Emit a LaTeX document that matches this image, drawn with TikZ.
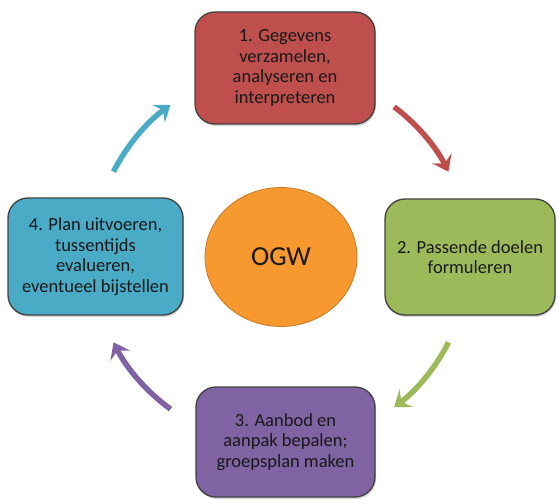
\documentclass[tikz,border=0pt]{standalone}
\usepackage{fontspec}
\setmainfont{Carlito}
\usetikzlibrary{arrows.meta,shapes.geometric,shadows}
\definecolor{DataClr}{rgb}{0.75,0.31,0.30}
\definecolor{GoalClr}{rgb}{0.61,0.73,0.35}
\definecolor{PlanClr}{rgb}{0.50,0.39,0.64}
\definecolor{DoClr}{rgb}{0.29,0.67,0.78}
\definecolor{CoreClr}{rgb}{0.97,0.60,0.18}

\begin{document}
\begin{tikzpicture}[x=1pt,y=1pt,
  stepbox/.style={draw=black!75,line width=1.3pt,rounded corners=20pt,align=center,inner sep=0pt,
    font=\fontsize{18.5}{20.5}\selectfont,text=black!90,
    drop shadow={opacity=.3,shadow xshift=1pt,shadow yshift=-2pt}},
  cyclearrow/.style={line width=5.5pt,-{Stealth[length=15pt,width=22pt,inset=6pt]}}]

\useasboundingbox (0,0) rectangle (557,499);

\node[stepbox,fill=DataClr,minimum width=180pt,minimum height=112pt] (data) at (285,431)
  {1. Gegevens\\verzamelen,\\analyseren en\\interpreteren};
\node[stepbox,fill=GoalClr,minimum width=170pt,minimum height=116pt] (goal) at (470,242)
  {2. Passende doelen\\formuleren};
\node[stepbox,fill=PlanClr,minimum width=179pt,minimum height=110pt] (plan) at (285.5,57)
  {3. Aanbod en\\aanpak bepalen;\\groepsplan maken};
\node[stepbox,fill=DoClr,minimum width=175pt,minimum height=117pt] (do) at (95.5,242.5)
  {4. Plan uitvoeren,\\tussentijds\\evalueren,\\eventueel bijstellen};

\node[ellipse,fill=CoreClr,draw=CoreClr!80!black,line width=.8pt,minimum width=152pt,minimum height=139pt,
  font=\fontsize{27.5}{30}\selectfont,text=black!90] (ogw) at (281,242) {OGW};

\coordinate (a1) at ([shift={(53:188pt)}]ogw.center);
\coordinate (a2) at ([shift={(-27:188pt)}]ogw.center);
\coordinate (a3) at ([shift={(-126:188pt)}]ogw.center);
\coordinate (a4) at ([shift={(153:188pt)}]ogw.center);

\draw[cyclearrow,DataClr] (a1) arc[start angle=53,end angle=27,radius=188pt];
\draw[cyclearrow,GoalClr] (a2) arc[start angle=-27,end angle=-53,radius=188pt];
\draw[cyclearrow,PlanClr] (a3) arc[start angle=-126,end angle=-153,radius=188pt];
\draw[cyclearrow,DoClr] (a4) arc[start angle=153,end angle=126,radius=188pt];

\end{tikzpicture}
\end{document}
